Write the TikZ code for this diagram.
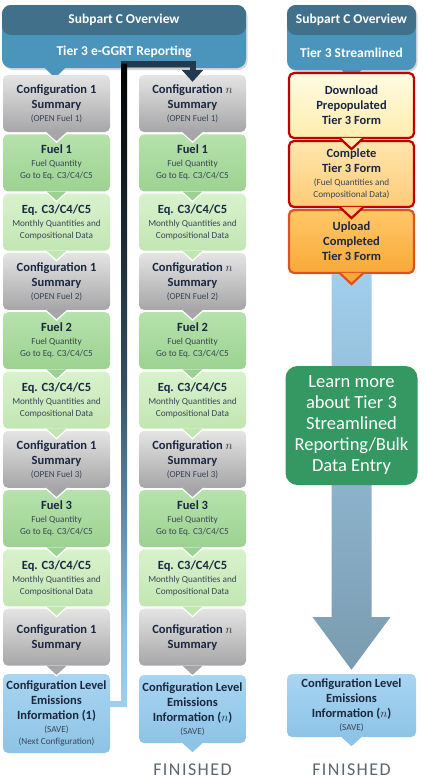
\documentclass[tikz,border=0pt]{standalone}
\usepackage{fontspec}
\setmainfont{Carlito}
\usetikzlibrary{positioning,shadows,arrows.meta}

\definecolor{hdDark}{HTML}{41708A}
\definecolor{hdLight}{HTML}{4B95BD}
\definecolor{sumTop}{HTML}{E4E4E4}
\definecolor{sumBot}{HTML}{A6A6A8}
\definecolor{fuelTop}{HTML}{B6E2AC}
\definecolor{fuelBot}{HTML}{9CD291}
\definecolor{eqTop}{HTML}{D8F2CD}
\definecolor{eqBot}{HTML}{C2E6B2}
\definecolor{emTop}{HTML}{A8D5F1}
\definecolor{emBot}{HTML}{8EC3E6}
\definecolor{dlTop}{HTML}{FFFBE3}
\definecolor{dlBot}{HTML}{FFECAE}
\definecolor{cpTop}{HTML}{FFE6AE}
\definecolor{cpBot}{HTML}{FDCB76}
\definecolor{upTop}{HTML}{FFC868}
\definecolor{upBot}{HTML}{F9A838}
\definecolor{redEdge}{HTML}{C00000}
\definecolor{orEdge}{HTML}{D9541E}
\definecolor{learn}{HTML}{359862}
\definecolor{titleTxt}{HTML}{1B2740}
\definecolor{subTxt}{HTML}{3A4656}
\definecolor{bandTop}{HTML}{A0CEEC}
\definecolor{bandBot}{HTML}{7A9BAF}
\definecolor{loopTop}{HTML}{223A4B}
\definecolor{fin}{HTML}{5A6670}
\definecolor{lpA}{HTML}{9FCFEE}
\definecolor{lpB}{HTML}{8CBFE2}
\definecolor{lpC}{HTML}{5E8AA8}
\definecolor{lpD}{HTML}{35505F}
\definecolor{lpE}{HTML}{1A2833}

\pgfdeclareverticalshading{loopfade}{100bp}{color(0bp)=(lpA); color(25bp)=(lpA); color(31bp)=(lpB); color(40bp)=(lpC); color(50bp)=(lpD); color(62bp)=(lpE); color(75bp)=(black); color(100bp)=(black)}

\newcommand{\smalltxt}{\fontsize{9.2}{12}\selectfont\mdseries\color{subTxt}}

\begin{document}
\begin{tikzpicture}[x=1pt, y=-1pt,
  header/.style={rounded corners=9pt, fill=hdLight, drop shadow={opacity=0.3, shadow xshift=1.5pt, shadow yshift=-2pt},
    path picture={\fill[hdDark] (path picture bounding box.north west) rectangle ([yshift=-30pt]path picture bounding box.north east);}},
  headtxt/.style={text=white, font=\fontsize{13.5}{15}\selectfont\bfseries},
  stepbox/.style={rounded corners=5pt, inner sep=1pt, align=center, text=titleTxt, font=\fontsize{12.5}{13}\selectfont\bfseries},
  sumbox/.style={stepbox, minimum width=107pt, minimum height=57pt, top color=sumTop, bottom color=sumBot},
  fuelbox/.style={stepbox, minimum width=107pt, minimum height=57pt, top color=fuelTop, bottom color=fuelBot},
  eqbox/.style={stepbox, minimum width=107pt, minimum height=57pt, top color=eqTop, bottom color=eqBot},
  embox/.style={stepbox, top color=emTop, bottom color=emBot},
  formbox/.style={stepbox, minimum width=125pt, line width=2.2pt},
  loopline/.style={line width=6pt, draw=loopTop, -{Triangle[width=21pt,length=12pt]}},
  fintxt/.style={text=fin, font=\fontsize{18}{20}\selectfont\addfontfeature{LetterSpace=8}}
]
\useasboundingbox (0,0) rectangle (424,780);

% 1. Headers (Top)
\node[header, minimum width=244pt, minimum height=63pt] (HDL) at (124,36.5) {};
\node[headtxt] (HDLa) at (124,20) {Subpart C Overview};
\node[headtxt] (HDLb) at (124,51.5) {Tier 3 e-GGRT Reporting};
\fill[hdLight] ([xshift=-79pt]HDL.south) -- ([xshift=-69pt,yshift=-10pt]HDL.south) -- ([xshift=-59pt]HDL.south) -- cycle;

\node[header, minimum width=129pt, minimum height=65pt] (HDR) at (351.5,37.5) {};
\node[headtxt] (HDRa) at (351.5,20) {Subpart C Overview};
\node[headtxt] (HDRb) at (351.5,52.5) {Tier 3 Streamlined};
\fill[hdLight] ([xshift=-10pt]HDR.south) -- ([yshift=-10pt]HDR.south) -- ([xshift=10pt]HDR.south) -- cycle;

% 2. Configuration 1 (Left column)
\node[sumbox] (SUM1) at (56.5,103.5) {Configuration 1\\[2pt]Summary\\{\smalltxt (OPEN Fuel 1)}};
\node[fuelbox] (FUEL1) at (56.5,162.8) {Fuel 1\\{\smalltxt Fuel Quantity}\\[-1pt]{\smalltxt Go to Eq. C3/C4/C5}};
\node[eqbox] (EQ1) at (56.5,222.1) {Eq. C3/C4/C5\\{\smalltxt Monthly Quantities and}\\[-1pt]{\smalltxt Compositional Data}};
\node[sumbox] (SUM2) at (56.5,281.4) {Configuration 1\\[2pt]Summary\\{\smalltxt (OPEN Fuel 2)}};
\node[fuelbox] (FUEL2) at (56.5,340.7) {Fuel 2\\{\smalltxt Fuel Quantity}\\[-1pt]{\smalltxt Go to Eq. C3/C4/C5}};
\node[eqbox] (EQ2) at (56.5,400) {Eq. C3/C4/C5\\{\smalltxt Monthly Quantities and}\\[-1pt]{\smalltxt Compositional Data}};
\node[sumbox] (SUM3) at (56.5,459.3) {Configuration 1\\[2pt]Summary\\{\smalltxt (OPEN Fuel 3)}};
\node[fuelbox] (FUEL3) at (56.5,518.6) {Fuel 3\\{\smalltxt Fuel Quantity}\\[-1pt]{\smalltxt Go to Eq. C3/C4/C5}};
\node[eqbox] (EQ3) at (56.5,577.9) {Eq. C3/C4/C5\\{\smalltxt Monthly Quantities and}\\[-1pt]{\smalltxt Compositional Data}};
\node[sumbox] (SUM4) at (56.5,637.2) {Configuration 1\\[2pt]Summary};
\node[embox, minimum width=107pt, minimum height=79pt] (EMIS1) at (56.5,713.5) {Configuration Level\\[2pt]Emissions\\[2pt]Information (1)\\{\smalltxt (SAVE)}\\[-1pt]{\smalltxt (Next Configuration)}};

% 3. Configuration n (Middle column)
\node[sumbox] (SUMN1) at (192.5,103.5) {Configuration $n$\\[2pt]Summary\\{\smalltxt (OPEN Fuel 1)}};
\node[fuelbox] (FUELN1) at (192.5,162.8) {Fuel 1\\{\smalltxt Fuel Quantity}\\[-1pt]{\smalltxt Go to Eq. C3/C4/C5}};
\node[eqbox] (EQN1) at (192.5,222.1) {Eq. C3/C4/C5\\{\smalltxt Monthly Quantities and}\\[-1pt]{\smalltxt Compositional Data}};
\node[sumbox] (SUMN2) at (192.5,281.4) {Configuration $n$\\[2pt]Summary\\{\smalltxt (OPEN Fuel 2)}};
\node[fuelbox] (FUELN2) at (192.5,340.7) {Fuel 2\\{\smalltxt Fuel Quantity}\\[-1pt]{\smalltxt Go to Eq. C3/C4/C5}};
\node[eqbox] (EQN2) at (192.5,400) {Eq. C3/C4/C5\\{\smalltxt Monthly Quantities and}\\[-1pt]{\smalltxt Compositional Data}};
\node[sumbox] (SUMN3) at (192.5,459.3) {Configuration $n$\\[2pt]Summary\\{\smalltxt (OPEN Fuel 3)}};
\node[fuelbox] (FUELN3) at (192.5,518.6) {Fuel 3\\{\smalltxt Fuel Quantity}\\[-1pt]{\smalltxt Go to Eq. C3/C4/C5}};
\node[eqbox] (EQN3) at (192.5,577.9) {Eq. C3/C4/C5\\{\smalltxt Monthly Quantities and}\\[-1pt]{\smalltxt Compositional Data}};
\node[sumbox] (SUMN4) at (192.5,637.2) {Configuration $n$\\[2pt]Summary};
\node[embox, minimum width=107pt, minimum height=68pt] (EMISN) at (192.5,709) {Configuration Level\\[2pt]Emissions\\[2pt]Information ($n$)\\{\smalltxt (SAVE)}};

% 4. Streamlined forms (Right column)
\node[formbox, minimum height=65pt, draw=redEdge, top color=dlTop, bottom color=dlBot] (DL) at (351.5,105.5) {Download\\[2pt]Prepopulated\\[2pt]Tier 3 Form};
\node[formbox, minimum height=66pt, draw=redEdge, top color=cpTop, bottom color=cpBot] (CPL) at (351.5,174) {Complete\\[2pt]Tier 3 Form\\{\smalltxt (Fuel Quantities and}\\[-1pt]{\smalltxt Compositional Data)}};
\node[formbox, minimum height=63pt, draw=orEdge, top color=upTop, bottom color=upBot] (UPL) at (351.5,241.5) {Upload\\[2pt]Completed\\[2pt]Tier 3 Form};
\node[embox, minimum width=129pt, minimum height=63pt] (EMISR) at (351.5,705.5) {Configuration Level\\[2pt]Emissions\\[2pt]Information ($n$)\\{\smalltxt (SAVE)}};

% big arrow down to the last box
\coordinate (HEAD) at (351.5,617);
\shade[top color=bandTop, bottom color=bandBot] ([xshift=-20pt]UPL.south) -- ([xshift=-20pt]HEAD) -- ([xshift=-39pt]HEAD) -- ([yshift=4pt]EMISR.north) -- ([xshift=39pt]HEAD) -- ([xshift=20pt]HEAD) -- ([xshift=20pt]UPL.south) -- cycle;

\node[rounded corners=12pt, fill=learn, text=white, align=center, minimum width=132pt, minimum height=119pt, font=\fontsize{18.5}{21}\selectfont] (LEARN) at (351.5,425.5) {Learn more\\about Tier 3\\Streamlined\\Reporting/Bulk\\Data Entry};

% tabs under each box
\foreach \n/\c in {SUM1/sumBot, FUEL1/fuelBot, EQ1/eqBot, SUM2/sumBot, FUEL2/fuelBot, EQ2/eqBot, SUM3/sumBot, FUEL3/fuelBot, EQ3/eqBot, SUM4/sumBot,
                   SUMN1/sumBot, FUELN1/fuelBot, EQN1/eqBot, SUMN2/sumBot, FUELN2/fuelBot, EQN2/eqBot, SUMN3/sumBot, FUELN3/fuelBot, EQN3/eqBot, SUMN4/sumBot,
                   EMISN/emBot, EMISR/emBot}
  \filldraw[fill=\c, draw=white, line width=1.2pt] ([xshift=-11pt]\n.south) -- ([yshift=-10pt]\n.south) -- ([xshift=11pt]\n.south);
\foreach \n/\c/\e in {DL/dlBot/redEdge, CPL/cpBot/redEdge, UPL/upBot/orEdge}
  \filldraw[fill=\c, draw=\e, line width=2.2pt] ([xshift=-12pt,yshift=1.2pt]\n.south) -- ([yshift=-10pt]\n.south) -- ([xshift=12pt,yshift=1.2pt]\n.south);

% 5. Loop back to the next configuration
\coordinate (TURN) at (124,63.5);
\coordinate (BEND) at (124,704);
\draw[loopline] (EMIS1.east |- BEND) -- (BEND) -- (TURN) -| ([yshift=-7pt]SUMN1.north);
\begin{scope}
  \clip ([xshift=-3pt]TURN) rectangle ([xshift=3pt,yshift=-3pt]BEND)
        ([yshift=3pt]EMIS1.east |- BEND) rectangle ([yshift=-3pt]BEND);
  \shade[shading=loopfade] (EMIS1.east |- TURN) rectangle ([xshift=3pt,yshift=-3pt]BEND);
\end{scope}

% 6. Finish labels
\node[fintxt] (FIN1) at (192.5,770) {FINISHED};
\node[fintxt] (FIN2) at (351.5,770) {FINISHED};

\end{tikzpicture}
\end{document}
